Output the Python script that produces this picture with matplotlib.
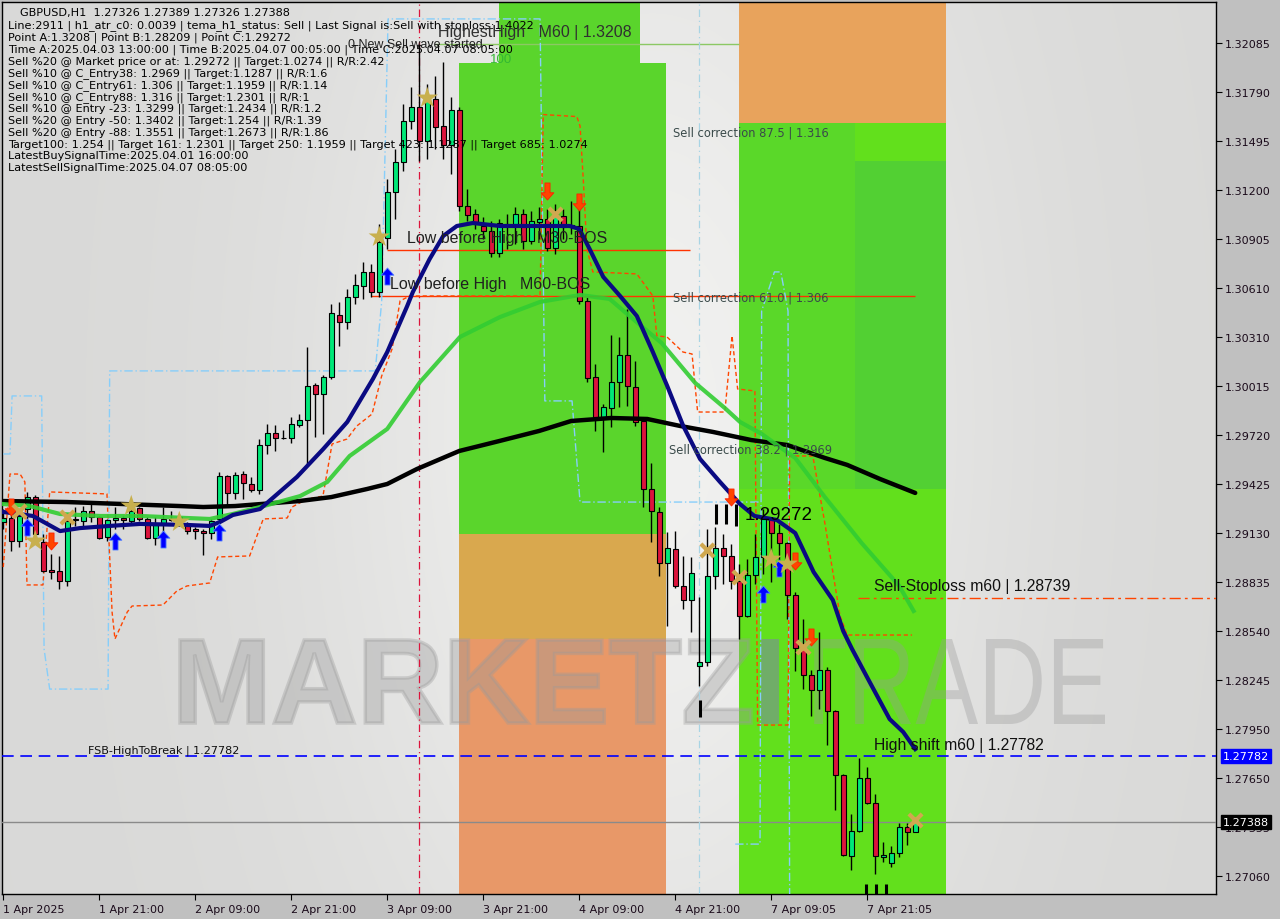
import numpy as np
import matplotlib
matplotlib.use("Agg")
import matplotlib.pyplot as plt
from matplotlib.patches import Rectangle, PathPatch
from matplotlib.textpath import TextPath
from matplotlib.font_manager import FontProperties
from matplotlib.transforms import Affine2D, IdentityTransform
from matplotlib.path import Path

# ---------------- data ----------------
opens = [1.29196, 1.29220, 1.29081, 1.29274, 1.29346, 1.29075, 1.28906, 1.28900, 1.28840, 1.29208,
         1.29202, 1.29262, 1.29226, 1.29105, 1.29208, 1.29220, 1.29202, 1.29280, 1.29214, 1.29099,
         1.29184, 1.29214, 1.29196, 1.29178, 1.29153, 1.29141, 1.29129, 1.29214, 1.29473, 1.29371,
         1.29485, 1.29425, 1.29389, 1.29660, 1.29733, 1.29702, 1.29702, 1.29781, 1.29811, 1.30022,
         1.29968, 1.30070, 1.30444, 1.30402, 1.30553, 1.30619, 1.30704, 1.30583, 1.30909, 1.31186,
         1.31367, 1.31614, 1.31699, 1.31494, 1.31747, 1.31584, 1.31470, 1.31681, 1.31102, 1.31054,
         1.30981, 1.30951, 1.30818, 1.30987, 1.30993, 1.31054, 1.30891, 1.31005, 1.31023, 1.30848,
         1.31042, 1.30987, 1.30981, 1.30529, 1.30070, 1.29829, 1.29883, 1.30040, 1.30203, 1.30010,
         1.29805, 1.29395, 1.29256, 1.28948, 1.29033, 1.28810, 1.28725, 1.28327, 1.28351, 1.28870,
         1.29039, 1.28991, 1.28840, 1.28629, 1.28876, 1.28985, 1.29214, 1.29129, 1.29069, 1.28755,
         1.28436, 1.28273, 1.28182, 1.28303, 1.28056, 1.27670, 1.27181, 1.27332, 1.27651, 1.27501,
         1.27175, 1.27139, 1.27199, 1.27356, 1.27326]
highs = [1.29274, 1.29316, 1.29250, 1.29377, 1.29358, 1.29123, 1.29003, 1.28991, 1.29214, 1.29286,
         1.29292, 1.29322, 1.29232, 1.29214, 1.29286, 1.29232, 1.29304, 1.29286, 1.29226, 1.29226,
         1.29286, 1.29262, 1.29244, 1.29196, 1.29165, 1.29153, 1.29214, 1.29497, 1.29479, 1.29497,
         1.29503, 1.29467, 1.29696, 1.29787, 1.29781, 1.29751, 1.29829, 1.29847, 1.30251, 1.30034,
         1.30082, 1.30511, 1.30523, 1.30601, 1.30692, 1.30764, 1.30752, 1.30993, 1.31265, 1.31446,
         1.31717, 1.31820, 1.32080, 1.31838, 1.31886, 1.31970, 1.31759, 1.31699, 1.31204, 1.31084,
         1.31035, 1.31011, 1.31023, 1.31054, 1.31096, 1.31084, 1.31072, 1.31096, 1.31084, 1.31114,
         1.31084, 1.31132, 1.31144, 1.30553, 1.30149, 1.29907, 1.30324, 1.30312, 1.30481, 1.30167,
         1.29805, 1.29552, 1.29286, 1.29135, 1.29141, 1.28991, 1.28985, 1.28743, 1.29153, 1.29165,
         1.29123, 1.29063, 1.28942, 1.28972, 1.29123, 1.29272, 1.29220, 1.29184, 1.29075, 1.28773,
         1.28611, 1.28303, 1.28532, 1.28321, 1.28062, 1.27676, 1.27434, 1.27772, 1.27718, 1.27555,
         1.27265, 1.27241, 1.27380, 1.27380, 1.27389]
lows = [1.29153, 1.29021, 1.29045, 1.29214, 1.29093, 1.28894, 1.28852, 1.28792, 1.28810, 1.29172,
        1.29172, 1.29196, 1.29093, 1.29081, 1.29153, 1.29153, 1.29184, 1.29202, 1.29093, 1.29057,
        1.29111, 1.29202, 1.29184, 1.29123, 1.29093, 1.28997, 1.29093, 1.29202, 1.29292, 1.29334,
        1.29334, 1.29377, 1.29365, 1.29606, 1.29624, 1.29696, 1.29672, 1.29769, 1.29546, 1.29708,
        1.29727, 1.30058, 1.30257, 1.30360, 1.30511, 1.30541, 1.30553, 1.30553, 1.30842, 1.31023,
        1.31313, 1.31566, 1.31373, 1.31385, 1.31446, 1.31385, 1.31295, 1.31072, 1.31011, 1.30963,
        1.30903, 1.30794, 1.30794, 1.30842, 1.30873, 1.30842, 1.30873, 1.30903, 1.30830, 1.30812,
        1.30903, 1.30933, 1.30511, 1.30040, 1.29745, 1.29618, 1.29769, 1.29889, 1.29895, 1.29775,
        1.29286, 1.29075, 1.28870, 1.28568, 1.28798, 1.28671, 1.28532, 1.28209, 1.28327, 1.28792,
        1.28822, 1.28792, 1.28490, 1.28623, 1.28822, 1.28882, 1.28834, 1.28912, 1.28611, 1.28297,
        1.28188, 1.28025, 1.28068, 1.27851, 1.27458, 1.27181, 1.27096, 1.27326, 1.27495, 1.27072,
        1.27145, 1.27115, 1.27175, 1.27247, 1.27326]
closes = [1.29220, 1.29081, 1.29232, 1.29346, 1.29123, 1.28900, 1.28894, 1.28840, 1.29202, 1.29210,
          1.29262, 1.29226, 1.29099, 1.29208, 1.29220, 1.29208, 1.29262, 1.29214, 1.29099, 1.29178,
          1.29214, 1.29208, 1.29226, 1.29141, 1.29141, 1.29129, 1.29202, 1.29473, 1.29371, 1.29479,
          1.29431, 1.29389, 1.29660, 1.29733, 1.29702, 1.29705, 1.29787, 1.29811, 1.30016, 1.29968,
          1.30070, 1.30456, 1.30402, 1.30553, 1.30625, 1.30704, 1.30583, 1.30885, 1.31186, 1.31367,
          1.31614, 1.31699, 1.31494, 1.31747, 1.31578, 1.31470, 1.31681, 1.31102, 1.31048, 1.31005,
          1.30951, 1.30818, 1.30999, 1.30993, 1.31054, 1.30891, 1.31011, 1.31023, 1.30848, 1.31066,
          1.30975, 1.30981, 1.30529, 1.30064, 1.29829, 1.29889, 1.30040, 1.30203, 1.30016, 1.29799,
          1.29395, 1.29262, 1.28948, 1.29039, 1.28810, 1.28725, 1.28888, 1.28351, 1.28870, 1.29039,
          1.28991, 1.28840, 1.28629, 1.28876, 1.28985, 1.29214, 1.29129, 1.29069, 1.28755, 1.28436,
          1.28273, 1.28182, 1.28303, 1.28056, 1.27670, 1.27187, 1.27332, 1.27651, 1.27501, 1.27181,
          1.27187, 1.27199, 1.27356, 1.27326, 1.27388]

x_tick_pos = [0, 12, 24, 36, 48, 60, 72, 84, 96, 108]
x_tick_labels = ["1 Apr 2025", "1 Apr 21:00", "2 Apr 09:00", "2 Apr 21:00", "3 Apr 09:00",
                 "3 Apr 21:00", "4 Apr 09:00", "4 Apr 21:00", "7 Apr 09:05", "7 Apr 21:05"]
y_ticks = [1.32085, 1.31790, 1.31495, 1.31200, 1.30905, 1.30610, 1.30310, 1.30015, 1.29720,
           1.29425, 1.29130, 1.28835, 1.28540, 1.28245, 1.27950, 1.27650, 1.27355, 1.27060]

# moving averages (knots: bar index, price)
ma_black_x = [0, 8, 15, 22, 25, 29, 37, 41, 45.5, 48, 51.7, 57, 62, 67, 71, 76, 80.5, 84.6, 88.7,
              93.5, 98, 102.7, 105.5, 109.6, 114]
ma_black_y = [1.29322, 1.29316, 1.29304, 1.29292, 1.29286, 1.29292, 1.29322, 1.29346, 1.29395,
              1.29425, 1.29515, 1.29624, 1.29684, 1.29745, 1.29805, 1.29823, 1.29817, 1.29775,
              1.29739, 1.29690, 1.29660, 1.29582, 1.29540, 1.29455, 1.29371]
ma_navy_x = [0, 2, 3.7, 7.1, 9.6, 13.3, 17.1, 22.9, 25.8, 27.1, 28.7, 32.1, 36.7, 40, 43, 46.2, 48,
             50.5, 51.2, 53.3, 55, 56.7, 58.7, 62.1, 66.2, 70.8, 72, 73.3, 75, 77.1, 79.2, 81.2, 83,
             85, 87.1, 89.6, 92.1, 93.9, 96.7, 99, 101.3, 103.7, 105, 106.1, 108.3, 110.8, 112.5, 114]
ma_navy_y = [1.29256, 1.29244, 1.29232, 1.29141, 1.29159, 1.29172, 1.29184, 1.29178, 1.29172,
             1.29196, 1.29238, 1.29274, 1.29467, 1.29636, 1.29799, 1.30058, 1.30221, 1.30499,
             1.30583, 1.30782, 1.30921, 1.30981, 1.30999, 1.30981, 1.30981, 1.30981, 1.30963,
             1.30842, 1.30674, 1.30559, 1.30438, 1.30221, 1.30016, 1.29775, 1.29576, 1.29437,
             1.29304, 1.29232, 1.29208, 1.29129, 1.28894, 1.28725, 1.28538, 1.28430, 1.28231,
             1.28007, 1.27929, 1.27826]
ma_green_x = [0, 3.3, 7.1, 12.1, 17.1, 22.9, 25.8, 28.7, 32.1, 37.1, 40.5, 43.3, 48, 52.1, 57.1,
              62.1, 67.1, 72.1, 75.8, 79.6, 82.3, 86.5, 90.2, 92.1, 94.8, 99, 102.7, 107.3, 112, 113.8]
ma_green_y = [1.29304, 1.29292, 1.29244, 1.29232, 1.29232, 1.29220, 1.29214, 1.29244, 1.29286,
              1.29352, 1.29437, 1.29594, 1.29757, 1.30040, 1.30312, 1.30432, 1.30523, 1.30565,
              1.30541, 1.30384, 1.30275, 1.30034, 1.29883, 1.29799, 1.29727, 1.29582, 1.29346,
              1.29069, 1.28810, 1.28659]
# ATR trailing stop (orange dashed)
atr_x = [0, 0.84, 2.1, 2.7, 2.96, 4.96, 5.8, 12.96, 13.6, 13.96, 15.5, 16.1, 19.96, 21.7, 22.96,
         25.8, 26.8, 30.8, 31.7, 32.5, 35.5, 36.1, 37.96, 39.96, 41.1, 42.96, 44.2, 46.1, 47.3,
         48.6, 49.6, 50.8, 67.1, 67.5, 71.7, 72.1, 72.5, 72.96, 73.7, 79.2, 81.2, 81.7, 82.96,
         84.96, 86.1, 86.8, 90.2, 91.1, 91.8, 93.96, 94.3, 98.1, 98.3, 101.2, 102.7, 104.6, 105.5,
         113.6]
atr_y = [1.28924, 1.29485, 1.29485, 1.29437, 1.28816, 1.28816, 1.29377, 1.29365, 1.28653, 1.28490,
         1.28653, 1.28689, 1.28695, 1.28780, 1.28810, 1.28828, 1.28985, 1.28991, 1.29111, 1.29214,
         1.29220, 1.29286, 1.29334, 1.29352, 1.29666, 1.29696, 1.29775, 1.29847, 1.30076, 1.30239,
         1.30529, 1.30559, 1.30559, 1.31653, 1.31641, 1.31584, 1.31265, 1.30842, 1.30704, 1.30692,
         1.30559, 1.30318, 1.30312, 1.30221, 1.30209, 1.29859, 1.29859, 1.30318, 1.29998, 1.29986,
         1.27971, 1.27971, 1.29594, 1.29594, 1.29190, 1.28629, 1.28514, 1.28514]
# channel (light blue dash-dot)
chan1_x = [0, 0.84, 1.1, 4.8, 5.1, 5.8, 13.1, 13.3, 46.5, 47.3, 48.1, 67.1, 67.7, 71.1, 72.1, 94.6]
chan1_y = [1.29606, 1.29606, 1.29956, 1.29956, 1.28430, 1.28188, 1.28188, 1.30107, 1.30107,
           1.30523, 1.32230, 1.32230, 1.29926, 1.29926, 1.29316, 1.29316]
chan2_x = [91.5, 94.6, 94.8, 96.4, 97.2, 98.1, 98.3]
chan2_y = [1.27253, 1.27253, 1.30468, 1.30704, 1.30704, 1.30468, 1.26952]

# signals
star_x = [4, 16, 22, 47, 53, 96, 98]
star_y = [1.29081, 1.29292, 1.29196, 1.30915, 1.31753, 1.28972, 1.28942]
cross_x = [2, 8, 69, 88, 92, 100, 114]
cross_y = [1.29262, 1.29226, 1.31054, 1.29027, 1.28864, 1.28442, 1.27398]
buy_x = [3, 14, 20, 27, 48, 95, 97]
buy_y = [1.29165, 1.29081, 1.29093, 1.29135, 1.30680, 1.28761, 1.28918]
sell_x = [1, 6, 68, 72, 91, 99, 101]
sell_y = [1.29286, 1.29081, 1.31192, 1.31126, 1.29346, 1.28960, 1.28502]
mark_x = [89.1, 90.3, 91.6, 87.1, 107.8, 109.1, 110.3]
mark_lo = [1.29184, 1.29184, 1.29172, 1.28021, 1.26952, 1.26952, 1.26952]
mark_hi = [1.29304, 1.29304, 1.29304, 1.28123, 1.27012, 1.27012, 1.27012]

# levels
highest_high = 1.3208
point_c = 1.29272
fsb_high = 1.27782
last_price = 1.27388
sell_stoploss = 1.28739
bos_m30 = 1.30836
bos_m60 = 1.30559
corr_875 = 1.316
corr_610 = 1.306
corr_382 = 1.2969

info_lines = [
    "Line:2911 | h1_atr_c0: 0.0039 | tema_h1_status: Sell | Last Signal is:Sell with stoploss:1.4022",
    "Point A:1.3208 | Point B:1.28209 | Point C:1.29272",
    "Time A:2025.04.03 13:00:00 | Time B:2025.04.07 00:05:00 | Time C:2025.04.07 08:05:00",
    "Sell %20 @ Market price or at: 1.29272 || Target:1.0274 || R/R:2.42",
    "Sell %10 @ C_Entry38: 1.2969 || Target:1.1287 || R/R:1.6",
    "Sell %10 @ C_Entry61: 1.306 || Target:1.1959 || R/R:1.14",
    "Sell %10 @ C_Entry88: 1.316 || Target:1.2301 || R/R:1",
    "Sell %10 @ Entry -23: 1.3299 || Target:1.2434 || R/R:1.2",
    "Sell %20 @ Entry -50: 1.3402 || Target:1.254 || R/R:1.39",
    "Sell %20 @ Entry -88: 1.3551 || Target:1.2673 || R/R:1.86",
    "Target100: 1.254 || Target 161: 1.2301 || Target 250: 1.1959 || Target 423: 1.1287 || Target 685: 1.0274",
    "LatestBuySignalTime:2025.04.01 16:00:00",
    "LatestSellSignalTime:2025.04.07 08:05:00",
]

# ---------------- figure ----------------
W, H = 1280, 920
fig = plt.figure(figsize=(12.8, 9.2), dpi=100, facecolor="#c0c0c0")
ax = fig.add_axes([2 / W, (H - 895) / H, (1216 - 2) / W, (895 - 3) / H])
X0, X1 = -0.16, 151.6
Y0, Y1 = 1.26952, 1.32332
ax.set_xlim(X0, X1)
ax.set_ylim(Y0, Y1)

# background gradient
gx = np.linspace(0, 1214, 300)
gy = np.linspace(0, 892, 200)
GX, GY = np.meshgrid(gx, gy)
G = 0.85 + 0.095 * np.exp(-((GX - 650) / 330) ** 2 - ((GY - 420) / 650) ** 2)
img = np.dstack([G, G, G * 0.995])
ax.imshow(img, extent=(X0, X1, Y0, Y1), origin="upper", aspect="auto", zorder=0,
          interpolation="bilinear")

# zones
def zone(xa, xb, ya, yb, color, z=1):
    ax.add_patch(Rectangle((xa, ya), xb - xa, yb - ya, facecolor=color, edgecolor="none", zorder=z))

zone(56.95, 82.85, 1.29123, 1.31967, "#5ad52c")
zone(61.96, 79.6, 1.31967, Y1, "#5ad52c")
zone(56.95, 82.85, 1.28490, 1.29123, "#d9a84e")
zone(56.95, 82.85, Y0, 1.28490, "#e89868")
zone(91.96, 117.84, corr_875, Y1, "#e8a35c")
zone(91.96, 117.84, Y0, corr_875, "#62e01c")
zone(91.96, 106.5, 1.29395, corr_875, "#5ad829")
zone(106.5, 117.84, 1.29395, 1.31373, "#52d033")

# watermark
def watermark(text, px0, px1, py0, py1, weight, color, alpha, stroke=0.0):
    tp = TextPath((0, 0), text, size=100,
                  prop=FontProperties(family="Liberation Sans", weight=weight))
    bb = tp.get_extents()
    tr = (Affine2D().translate(-bb.x0, -bb.y0)
          .scale((px1 - px0) / bb.width, (py1 - py0) / bb.height)
          .translate(px0, H - py1))
    ax.add_patch(PathPatch(tr.transform_path(tp), transform=IdentityTransform(),
                           facecolor=color, edgecolor=color if stroke else "none",
                           linewidth=stroke, alpha=alpha, zorder=2))

watermark("MARKETZ", 180, 751, 641, 724, "bold", "#9a9a9a", 0.36, stroke=2.5)
watermark("I", 761, 779, 640, 725, "bold", "#7a8c9c", 0.6)
watermark("TRADE", 792, 1105, 640, 725, "normal", "#9a9a9a", 0.36)

# level lines
ax.axhline(fsb_high, color="#0000ff", lw=1.2, ls=(0, (7, 4)), zorder=3)
ax.axhline(last_price, color="#8a8a8a", lw=1.0, zorder=3)
ax.hlines(sell_stoploss, 106.8, X1, color="#ff4500", lw=1.0, ls=(0, (8, 3, 2, 3)), zorder=3)
ax.hlines(bos_m30, 48, 85.8, color="#ff3300", lw=1.0, zorder=3)
ax.hlines(bos_m60, 46, 114, color="#ff3300", lw=1.0, zorder=3)
ax.hlines(highest_high, 54, 92, color="#8cc864", lw=1.0, zorder=3)
ax.axvline(52, color="#dc143c", lw=0.9, ls=(0, (6, 3, 1, 3)), zorder=3)
ax.axvline(87, color="#a8d4e4", lw=0.9, ls=(0, (6, 3, 1, 3)), zorder=3)

ax.plot(chan1_x, chan1_y, color="#87cefa", lw=1.0, ls=(0, (6, 2, 1, 2)), zorder=3)
ax.plot(chan2_x, chan2_y, color="#87cefa", lw=1.0, ls=(0, (6, 2, 1, 2)), zorder=3)
ax.plot(atr_x, atr_y, color="#ff4500", lw=1.0, ls=(0, (3, 2)), zorder=3)

# candles
idx = np.arange(len(opens))
o = np.array(opens); c = np.array(closes); hi = np.array(highs); lo = np.array(lows)
ax.vlines(idx, lo, hi, color="black", lw=1.0, zorder=5)
up = c >= o
body_h = np.maximum(np.abs(c - o), 0.00003)
ax.bar(idx[up], body_h[up], bottom=np.minimum(o, c)[up], width=0.62, color="#00e878",
       edgecolor="black", linewidth=0.8, zorder=5)
ax.bar(idx[~up], body_h[~up], bottom=np.minimum(o, c)[~up], width=0.62, color="#dc143c",
       edgecolor="black", linewidth=0.8, zorder=5)

# moving averages
ax.plot(ma_black_x, ma_black_y, color="black", lw=3.2, zorder=6, solid_capstyle="round")
ax.plot(ma_green_x, ma_green_y, color="#32cd32", lw=3.0, zorder=6, alpha=0.9)
ax.plot(ma_navy_x, ma_navy_y, color="#0a0a82", lw=3.0, zorder=6)

# marks
ax.vlines(mark_x, mark_lo, mark_hi, color="black", lw=2.2, zorder=6)

# signal markers
up_arrow = Path([(-0.3, -1), (0.3, -1), (0.3, 0.15), (0.75, 0.15), (0, 1), (-0.75, 0.15),
                 (-0.3, 0.15), (-0.3, -1)], closed=True)
dn_arrow = Path([(-0.3, 1), (0.3, 1), (0.3, -0.15), (0.75, -0.15), (0, -1), (-0.75, -0.15),
                 (-0.3, -0.15), (-0.3, 1)], closed=True)
ax.scatter(buy_x, buy_y, marker=up_arrow, s=150, c="#0000ff", edgecolors="#5080ff",
           linewidths=0.6, zorder=7)
ax.scatter(sell_x, sell_y, marker=dn_arrow, s=150, c="#ff4500", edgecolors="#ff2000",
           linewidths=0.6, zorder=7)
ax.scatter(star_x, star_y, marker="*", s=260, c="#c8b04e", edgecolors="none", zorder=7)
ax.scatter(cross_x, cross_y, marker="x", s=90, c="#d0a850", linewidths=3, zorder=7)

# axes styling
for s in ax.spines.values():
    s.set_color("black"); s.set_linewidth(1.0)
ax.yaxis.tick_right()
ax.set_yticks(y_ticks)
ax.set_yticklabels([f"{v:.5f}" for v in y_ticks], fontsize=8, color="#1a0a1a",
                   family="DejaVu Sans")
ax.tick_params(axis="y", direction="out", length=4, pad=2, color="black")
ax.set_xticks(x_tick_pos)
ax.set_xticklabels(x_tick_labels, fontsize=8, color="#1a0a1a", ha="left", family="DejaVu Sans")
ax.tick_params(axis="x", direction="out", length=4, pad=3, color="black")

# price boxes on the right axis
ax.annotate(f"{fsb_high:.5f}", xy=(1.0, fsb_high), xycoords=("axes fraction", "data"),
            xytext=(5, 0), textcoords="offset points", va="center", ha="left", fontsize=8,
            color="white", bbox=dict(boxstyle="square,pad=0.18", fc="#0000ff", ec="#0000ff"),
            annotation_clip=False, zorder=20)
ax.annotate(f"{last_price:.5f}", xy=(1.0, last_price), xycoords=("axes fraction", "data"),
            xytext=(5, 0), textcoords="offset points", va="center", ha="left", fontsize=8,
            color="white", bbox=dict(boxstyle="square,pad=0.18", fc="black", ec="black"),
            annotation_clip=False, zorder=20)

# ---------------- texts (pixel placement) ----------------
def ptext(px, py, s, size=8.1, color="black", family="DejaVu Sans", **kw):
    fig.text(px / W, 1 - py / H, s, fontsize=size, color=color, family=family,
             va="center", ha="left", zorder=10, **kw)

ptext(20, 13, "GBPUSD,H1  1.27326 1.27389 1.27326 1.27388")
for k, line in enumerate(info_lines):
    ptext(8, 26 + 11.85 * k, line)

ptext(438, 33, "HighestHigh   M60 | 1.3208", size=11.5, color="#303030", family="Liberation Sans")
ptext(348, 45, "0 New Sell wave started", size=9, color="#202020", family="Liberation Sans")
ptext(490, 60, "100", size=9.5, color="#33b833", family="Liberation Sans")
ptext(407, 239, "Low before High   M30-BOS", size=11.5, color="#202020", family="Liberation Sans")
ptext(390, 285, "Low before High   M60-BOS", size=11.5, color="#202020", family="Liberation Sans")
ptext(673, 133, "Sell correction 87.5 | 1.316", size=8.3, color="#3a4a4a")
ptext(673, 298, "Sell correction 61.0 | 1.306", size=8.3, color="#3a4a4a")
ptext(669, 450, "Sell correction 38.2 | 1.2969", size=8.3, color="#3a4a4a")
ptext(745, 515, f"{point_c:.5f}", size=13.5, color="black", family="Liberation Sans")
ptext(874, 587, "Sell-Stoploss m60 | 1.28739", size=11.3, color="#101010", family="Liberation Sans")
ptext(874, 746, "High shift m60 | 1.27782", size=11.3, color="#101010", family="Liberation Sans")
ptext(88, 751, "FSB-HighToBreak | 1.27782", size=8.0, color="#101010")

fig.savefig("out.png", dpi=100, facecolor=fig.get_facecolor())
